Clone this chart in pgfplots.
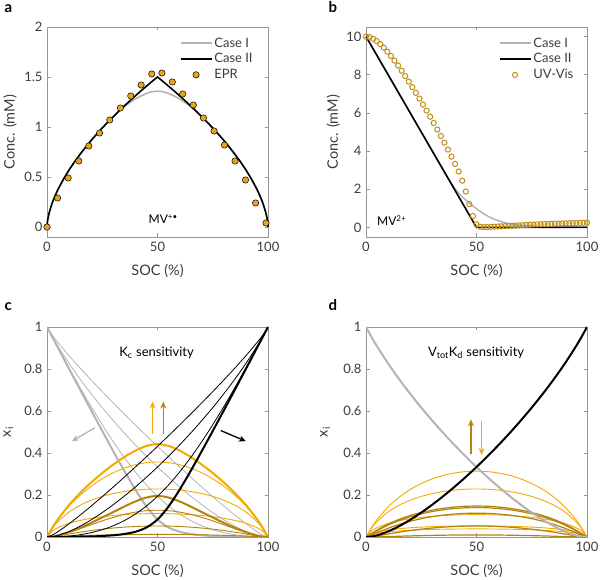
\documentclass[border=0pt]{standalone}
\usepackage{fontspec}
\setmainfont{Lato}
\usepackage{pgfplots}
\usepackage{pgfplotstable}
\pgfplotsset{compat=1.18}
\usetikzlibrary{arrows.meta}
\definecolor{axgray}{RGB}{150,150,150}
\definecolor{labgray}{RGB}{60,60,60}
\definecolor{lgray}{RGB}{180,180,180}
\definecolor{orng}{RGB}{245,170,0}
\definecolor{dgold}{RGB}{180,130,15}
\definecolor{eprfill}{RGB}{232,163,25}
\definecolor{uvedge}{RGB}{192,142,25}
\tikzset{arr/.style={-{Stealth[length=7pt,width=6pt]}, line width=1.3pt}}

\pgfplotstableread{
s A B D C
0 1 0 0 0
2.5 0.9500 0.0458 0.0021 0.0000
5 0.9001 0.0852 0.0073 0.0001
10 0.8005 0.1525 0.0233 0.0005
15 0.7013 0.2096 0.0439 0.0013
20 0.6026 0.2598 0.0675 0.0026
25 0.5048 0.3047 0.0929 0.0048
30 0.4083 0.3451 0.1191 0.0083
35 0.3143 0.3810 0.1452 0.0143
40 0.2250 0.4114 0.1693 0.0250
45 0.1452 0.4336 0.1880 0.0452
50 0.0833 0.4422 0.1956 0.0833
55 0.0452 0.4336 0.1880 0.1452
60 0.0250 0.4114 0.1693 0.2250
65 0.0143 0.3810 0.1452 0.3143
70 0.0083 0.3451 0.1191 0.4083
75 0.0048 0.3047 0.0929 0.5048
80 0.0026 0.2598 0.0675 0.6026
85 0.0013 0.2096 0.0439 0.7013
90 0.0005 0.1525 0.0233 0.8005
95 0.0001 0.0852 0.0073 0.9001
97.5 0.0000 0.0458 0.0021 0.9500
100 0 0 0 1
}\kcA

\pgfplotstableread{
s A B D C
0 1 0 0 0
2.5 0.9503 0.0454 0.0021 0.0003
5 0.9011 0.0838 0.0070 0.0011
10 0.8045 0.1475 0.0217 0.0045
15 0.7109 0.1990 0.0396 0.0109
20 0.6207 0.2417 0.0584 0.0207
25 0.5347 0.2771 0.0768 0.0347
30 0.4536 0.3058 0.0935 0.0536
35 0.3782 0.3282 0.1077 0.0782
40 0.3093 0.3443 0.1186 0.1093
45 0.2477 0.3540 0.1253 0.1477
50 0.1937 0.3573 0.1276 0.1937
55 0.1477 0.3540 0.1253 0.2477
60 0.1093 0.3443 0.1186 0.3093
65 0.0782 0.3282 0.1077 0.3782
70 0.0536 0.3058 0.0935 0.4536
75 0.0347 0.2771 0.0768 0.5347
80 0.0207 0.2417 0.0584 0.6207
85 0.0109 0.1990 0.0396 0.7109
90 0.0045 0.1475 0.0217 0.8045
95 0.0011 0.0838 0.0070 0.9011
97.5 0.0003 0.0454 0.0021 0.9503
100 0 0 0 1
}\kcB

\pgfplotstableread{
s A B D C
0 1 0 0 0
2.5 0.9522 0.0421 0.0018 0.0022
5 0.9078 0.0735 0.0054 0.0078
10 0.8263 0.1191 0.0142 0.0263
15 0.7516 0.1512 0.0229 0.0516
20 0.6819 0.1750 0.0306 0.0819
25 0.6162 0.1931 0.0373 0.1162
30 0.5540 0.2067 0.0427 0.1540
35 0.4948 0.2166 0.0469 0.1948
40 0.4384 0.2234 0.0499 0.2384
45 0.3846 0.2274 0.0517 0.2846
50 0.3333 0.2287 0.0523 0.3333
55 0.2846 0.2274 0.0517 0.3846
60 0.2384 0.2234 0.0499 0.4384
65 0.1948 0.2166 0.0469 0.4948
70 0.1540 0.2067 0.0427 0.5540
75 0.1162 0.1931 0.0373 0.6162
80 0.0819 0.1750 0.0306 0.6819
85 0.0516 0.1512 0.0229 0.7516
90 0.0263 0.1191 0.0142 0.8263
95 0.0078 0.0735 0.0054 0.9078
97.5 0.0022 0.0421 0.0018 0.9522
100 0 0 0 1
}\kcC

\pgfplotstableread{
s A B D C
0 1 0 0 0
2.5 0.9597 0.0289 0.0008 0.0097
5 0.9256 0.0447 0.0020 0.0256
10 0.8631 0.0653 0.0043 0.0631
15 0.8042 0.0791 0.0063 0.1042
20 0.7475 0.0891 0.0079 0.1475
25 0.6923 0.0967 0.0093 0.1923
30 0.6383 0.1024 0.0105 0.2383
35 0.5854 0.1066 0.0114 0.2854
40 0.5333 0.1094 0.0120 0.3333
45 0.4821 0.1111 0.0123 0.3821
50 0.4317 0.1116 0.0125 0.4317
55 0.3821 0.1111 0.0123 0.4821
60 0.3333 0.1094 0.0120 0.5333
65 0.2854 0.1066 0.0114 0.5854
70 0.2383 0.1024 0.0105 0.6383
75 0.1923 0.0967 0.0093 0.6923
80 0.1475 0.0891 0.0079 0.7475
85 0.1042 0.0791 0.0063 0.8042
90 0.0631 0.0653 0.0043 0.8631
95 0.0256 0.0447 0.0020 0.9256
97.5 0.0097 0.0289 0.0008 0.9597
100 0 0 0 1
}\kcD

\pgfplotstableread{
s A C B1 B2 B3 B4 B5 D1 D2 D3 D4 D5
0 1 0 0 0 0 0 0 0 0 0 0 0
2.5 0.9522 0.0022 0.0452 0.0421 0.0289 0.0169 0.0128 0.0002 0.0018 0.0084 0.0143 0.0164
5 0.9078 0.0078 0.0830 0.0735 0.0446 0.0245 0.0182 0.0007 0.0054 0.0199 0.0299 0.0331
10 0.8263 0.0263 0.1433 0.1191 0.0644 0.0337 0.0248 0.0020 0.0142 0.0415 0.0568 0.0613
15 0.7516 0.0516 0.1897 0.1512 0.0773 0.0397 0.0290 0.0036 0.0229 0.0598 0.0786 0.0840
20 0.6819 0.0819 0.2261 0.1750 0.0865 0.0439 0.0320 0.0051 0.0306 0.0749 0.0962 0.1022
25 0.6162 0.1162 0.2546 0.1931 0.0933 0.0470 0.0342 0.0065 0.0373 0.0871 0.1103 0.1167
30 0.5540 0.1540 0.2768 0.2067 0.0984 0.0493 0.0358 0.0077 0.0427 0.0968 0.1214 0.1281
35 0.4948 0.1948 0.2933 0.2166 0.1021 0.0509 0.0370 0.0086 0.0469 0.1042 0.1298 0.1367
40 0.4384 0.2384 0.3047 0.2234 0.1046 0.0521 0.0378 0.0093 0.0499 0.1093 0.1356 0.1427
45 0.3846 0.2846 0.3114 0.2274 0.1060 0.0527 0.0383 0.0097 0.0517 0.1124 0.1391 0.1463
50 0.3333 0.3333 0.3137 0.2287 0.1065 0.0530 0.0384 0.0098 0.0523 0.1134 0.1402 0.1475
55 0.2846 0.3846 0.3114 0.2274 0.1060 0.0527 0.0383 0.0097 0.0517 0.1124 0.1391 0.1463
60 0.2384 0.4384 0.3047 0.2234 0.1046 0.0521 0.0378 0.0093 0.0499 0.1093 0.1356 0.1427
65 0.1948 0.4948 0.2933 0.2166 0.1021 0.0509 0.0370 0.0086 0.0469 0.1042 0.1298 0.1367
70 0.1540 0.5540 0.2768 0.2067 0.0984 0.0493 0.0358 0.0077 0.0427 0.0968 0.1214 0.1281
75 0.1162 0.6162 0.2546 0.1931 0.0933 0.0470 0.0342 0.0065 0.0373 0.0871 0.1103 0.1167
80 0.0819 0.6819 0.2261 0.1750 0.0865 0.0439 0.0320 0.0051 0.0306 0.0749 0.0962 0.1022
85 0.0516 0.7516 0.1897 0.1512 0.0773 0.0397 0.0290 0.0036 0.0229 0.0598 0.0786 0.0840
90 0.0263 0.8263 0.1433 0.1191 0.0644 0.0337 0.0248 0.0020 0.0142 0.0415 0.0568 0.0613
95 0.0078 0.9078 0.0830 0.0735 0.0446 0.0245 0.0182 0.0007 0.0054 0.0199 0.0299 0.0331
97.5 0.0022 0.9522 0.0452 0.0421 0.0289 0.0169 0.0128 0.0002 0.0018 0.0084 0.0143 0.0164
100 0 1 0 0 0 0 0 0 0 0 0 0
}\dtab

\pgfplotsset{
 markleg/.style={legend image code/.code={\draw[##1] plot coordinates {(15.5pt,0pt)};}},
 panel/.style={
  scale only axis, width=221pt, height=210pt,
  xmin=0, xmax=100, xtick={0,50,100},
  tick align=inside, xtick pos=both, ytick pos=both,
  xticklabel pos=lower, yticklabel pos=left,
  axis line style={draw=axgray, line width=0.6pt},
  every tick/.style={draw=axgray, line width=0.5pt},
  major tick length=3.5pt,
  ticklabel style={font=\fontsize{13}{15}\selectfont, text=labgray},
  label style={font=\fontsize{14.5}{17}\selectfont, text=labgray},
  /pgf/number format/assume math mode=true,
  xlabel={SOC (\%)},
  xlabel style={at={(axis description cs:0.5,-0.16)}, anchor=center},
  yticklabel style={xshift=-1pt},
  xticklabel style={yshift=-2pt},
  legend image code/.code={\draw[##1] (0pt,0pt) -- (31pt,0pt);},
  legend style={draw=none, fill=none, anchor=north west,
    font=\fontsize{13}{15}\selectfont, text=labgray,
    row sep=1pt, inner sep=0pt, nodes={inner sep=2pt}},
  legend cell align=left,
 },
}

\begin{document}
\begin{tikzpicture}
\useasboundingbox (0pt,0pt) rectangle (600pt,580pt);

\node[anchor=base west, font=\bfseries\fontsize{15}{17}\selectfont] at (1pt,567pt) {a};
\node[anchor=base west, font=\bfseries\fontsize{15}{17}\selectfont] at (325pt,567pt) {b};
\node[anchor=base west, font=\bfseries\fontsize{15}{17}\selectfont] at (1pt,269pt) {c};
\node[anchor=base west, font=\bfseries\fontsize{15}{17}\selectfont] at (325pt,269pt) {d};

% ---------- a ----------
\begin{axis}[panel, at={(47pt,343pt)}, anchor=south west,
  ymin=-0.1, ymax=2, ytick={0,0.5,1,1.5,2},
  ylabel={Conc. (mM)},
  ylabel style={at={(axis description cs:-0.167,0.5)}, anchor=center},
  clip=false,
  legend style={at={(axis description cs:0.6,0.96)}}]
\addplot[lgray, line width=1.6pt, smooth] coordinates {
(0,0) (0.25,0.062) (0.5,0.095) (1,0.143) (2,0.217) (3.5,0.304) (5,0.377) (7.5,0.48) (10,0.571) (12.5,0.653) (15,0.728) (17.5,0.799) (20,0.866) (22.5,0.929) (25,0.990) (27.5,1.048) (30,1.104) (32.5,1.156) (35,1.203) (37.5,1.245) (40,1.28) (42.5,1.31) (45,1.335) (47.5,1.352) (50,1.358) (52.5,1.352) (55,1.335) (57.5,1.31) (60,1.28) (62.5,1.245) (65,1.203) (67.5,1.156) (70,1.104) (72.5,1.048) (75,0.990) (77.5,0.929) (80,0.866) (82.5,0.799) (85,0.728) (87.5,0.653) (90,0.571) (92.5,0.48) (95,0.377) (96.5,0.304) (98,0.217) (99,0.143) (99.5,0.095) (99.75,0.062) (100,0)};
\addlegendentry{Case I}
\addplot[black, line width=1.6pt] coordinates {
(0,0) (0.25,0.062) (0.5,0.095) (1,0.143) (2,0.217) (2.5,0.249) (3.5,0.304) (5,0.377) (7.5,0.48) (10,0.571) (12.5,0.653) (15,0.728) (17.5,0.799) (20,0.866) (22.5,0.929) (25,0.990) (27.5,1.048) (30,1.104) (32.5,1.158) (35,1.211) (37.5,1.262) (40,1.312) (42.5,1.361) (45,1.408) (47.5,1.455) (50,1.5) (52.5,1.455) (55,1.408) (57.5,1.361) (60,1.312) (62.5,1.262) (65,1.211) (67.5,1.158) (70,1.104) (72.5,1.048) (75,0.990) (77.5,0.929) (80,0.866) (82.5,0.799) (85,0.728) (87.5,0.653) (90,0.571) (92.5,0.48) (95,0.377) (96.5,0.304) (97.5,0.249) (98,0.217) (99,0.143) (99.5,0.095) (99.75,0.062) (100,0)};
\addlegendentry{Case II}
\addplot[only marks, mark=*, mark size=3.2pt, mark options={fill=eprfill, draw=black, line width=0.5pt}, markleg] coordinates {
(0,0) (4.8,0.29) (9.6,0.49) (14.4,0.66) (18.9,0.81) (23.8,0.94) (28.4,1.07) (33.2,1.19) (37.9,1.31) (42.6,1.42) (47.4,1.53) (52.0,1.54) (56.7,1.45) (61.4,1.33) (66.2,1.22) (70.8,1.09) (75.6,0.96) (80.3,0.82) (85.1,0.66) (89.8,0.47) (94.4,0.24) (99.1,0.04)};
\addlegendentry{EPR}
\node[font=\fontsize{12}{14}\selectfont] at (axis cs:52.6,0.08) {MV\textsuperscript{+\textbullet}};
\end{axis}

% ---------- b ----------
\begin{axis}[panel, at={(366pt,343pt)}, anchor=south west,
  ymin=-0.5, ymax=10.5, ytick={0,2,4,6,8,10},
  ylabel={Conc. (mM)},
  ylabel style={at={(axis description cs:-0.148,0.5)}, anchor=center},
  clip=false,
  legend style={at={(axis description cs:0.6,0.96)}}]
\addplot[lgray, line width=1.5pt, smooth] coordinates {
(0,10) (30,4.0) (35,3.0) (38,2.42) (40,2.08) (42.5,1.72) (45,1.45) (47.5,1.2) (50,0.98) (52.5,0.77) (55,0.6) (57.5,0.46) (60,0.35) (62.5,0.26) (65,0.19) (67.5,0.14) (70,0.11) (75,0.07) (80,0.05) (90,0.03) (100,0.02)};
\addlegendentry{Case I}
\addplot[black, line width=1.6pt] coordinates {(0,10) (50,0) (100,0)};
\addlegendentry{Case II}
\addplot[only marks, mark=o, mark size=2.6pt, mark options={draw=uvedge, fill=white, line width=1pt}, markleg] coordinates {
(0,10.0) (1.61,9.97) (3.23,9.88) (4.84,9.76) (6.45,9.60) (8.06,9.42) (9.68,9.21) (11.29,8.98) (12.90,8.74) (14.52,8.48) (16.13,8.21) (17.74,7.93) (19.35,7.64) (20.97,7.35) (22.58,7.05) (24.19,6.75) (25.81,6.44) (27.42,6.12) (29.03,5.80) (30.65,5.47) (32.26,5.13) (33.87,4.79) (35.48,4.44) (37.10,4.08) (38.71,3.71) (40.32,3.33) (41.94,2.93) (43.55,2.45) (45.16,1.88) (46.77,1.22) (48.39,0.60) (50.00,0.16) (51.61,0.04) (53.23,0.02) (54.84,0.02) (56.45,0.03) (58.06,0.04) (59.68,0.05) (61.29,0.06) (62.90,0.07) (64.52,0.08) (66.13,0.09) (67.74,0.10) (69.35,0.11) (70.97,0.12) (72.58,0.13) (74.19,0.14) (75.81,0.15) (77.42,0.16) (79.03,0.17) (80.65,0.18) (82.26,0.18) (83.87,0.19) (85.48,0.20) (87.10,0.20) (88.71,0.21) (90.32,0.22) (91.94,0.22) (93.55,0.23) (95.16,0.23) (96.77,0.24) (98.39,0.24) (100,0.25)};
\addlegendentry{UV-Vis}
\node[font=\fontsize{12}{14}\selectfont] at (axis cs:11.6,0.35) {MV\textsuperscript{2+}};
\end{axis}

% ---------- c ----------
\begin{axis}[panel, at={(47pt,43pt)}, anchor=south west,
  ymin=0, ymax=1, ytick={0,0.2,0.4,0.6,0.8,1},
  ylabel={x\textsubscript{i}},
  ylabel style={at={(axis description cs:-0.175,0.5)}, anchor=center}]
\addplot[lgray, line width=0.8pt, smooth] table[x=s,y=A] {\kcD};
\addplot[lgray, line width=0.8pt, smooth] table[x=s,y=A] {\kcC};
\addplot[lgray, line width=0.8pt, smooth] table[x=s,y=A] {\kcB};
\addplot[lgray, line width=2pt, smooth] table[x=s,y=A] {\kcA};
\addplot[orng, line width=0.9pt, smooth] table[x=s,y=B] {\kcD};
\addplot[orng, line width=0.9pt, smooth] table[x=s,y=B] {\kcC};
\addplot[orng, line width=0.9pt, smooth] table[x=s,y=B] {\kcB};
\addplot[orng, line width=2pt, smooth] table[x=s,y=B] {\kcA};
\addplot[dgold, line width=0.9pt, smooth] table[x=s,y=D] {\kcD};
\addplot[dgold, line width=0.9pt, smooth] table[x=s,y=D] {\kcC};
\addplot[dgold, line width=0.9pt, smooth] table[x=s,y=D] {\kcB};
\addplot[dgold, line width=2pt, smooth] table[x=s,y=D] {\kcA};
\addplot[black, line width=0.8pt, smooth] table[x=s,y=C] {\kcD};
\addplot[black, line width=0.8pt, smooth] table[x=s,y=C] {\kcC};
\addplot[black, line width=0.8pt, smooth] table[x=s,y=C] {\kcB};
\addplot[black, line width=2pt, smooth] table[x=s,y=C] {\kcA};
\draw[arr, lgray] (axis cs:21.7,0.52) -- (axis cs:11.2,0.456);
\draw[arr, black] (axis cs:78.6,0.507) -- (axis cs:90.0,0.456);
\draw[arr, orng] (axis cs:47.8,0.49) -- (axis cs:47.8,0.645);
\draw[arr, dgold] (axis cs:52.6,0.49) -- (axis cs:52.6,0.645);
\node[font=\fontsize{13}{15}\selectfont] at (axis cs:49.6,0.878) {K\textsubscript{c} sensitivity};
\end{axis}

% ---------- d ----------
\begin{axis}[panel, at={(366pt,43pt)}, anchor=south west,
  ymin=0, ymax=1, ytick={0,0.2,0.4,0.6,0.8,1},
  ylabel={x\textsubscript{i}},
  ylabel style={at={(axis description cs:-0.185,0.5)}, anchor=center}]
\addplot[orng, line width=0.9pt, smooth] table[x=s,y=B1] {\dtab};
\addplot[orng, line width=0.9pt, smooth] table[x=s,y=B2] {\dtab};
\addplot[orng, line width=0.9pt, smooth] table[x=s,y=B3] {\dtab};
\addplot[orng, line width=0.9pt, smooth] table[x=s,y=B4] {\dtab};
\addplot[orng, line width=0.9pt, smooth] table[x=s,y=B5] {\dtab};
\addplot[dgold, line width=1.2pt, smooth] table[x=s,y=D1] {\dtab};
\addplot[dgold, line width=1.2pt, smooth] table[x=s,y=D2] {\dtab};
\addplot[dgold, line width=1.2pt, smooth] table[x=s,y=D3] {\dtab};
\addplot[dgold, line width=1.2pt, smooth] table[x=s,y=D4] {\dtab};
\addplot[dgold, line width=1.2pt, smooth] table[x=s,y=D5] {\dtab};
\addplot[lgray, line width=2pt, smooth] table[x=s,y=A] {\dtab};
\addplot[black, line width=2pt, smooth] table[x=s,y=C] {\dtab};
\draw[arr, dgold] (axis cs:47.5,0.397) -- (axis cs:47.5,0.56);
\draw[arr, orng] (axis cs:52.3,0.55) -- (axis cs:52.3,0.39);
\node[font=\fontsize{13}{15}\selectfont] at (axis cs:49.8,0.878) {V\textsubscript{tot}K\textsubscript{d} sensitivity};
\end{axis}
\end{tikzpicture}
\end{document}
